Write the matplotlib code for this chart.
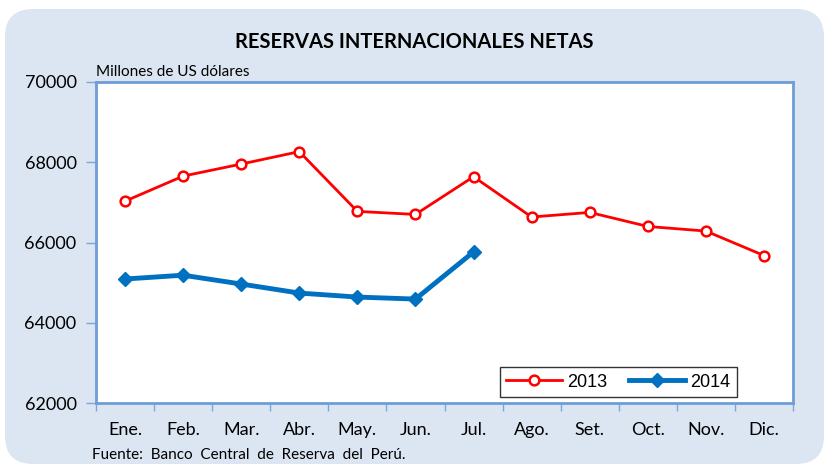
import matplotlib
matplotlib.use("Agg")
import matplotlib.pyplot as plt
from matplotlib.patches import FancyBboxPatch

months = ["Ene.", "Feb.", "Mar.", "Abr.", "May.", "Jun.", "Jul.", "Ago.", "Set.", "Oct.", "Nov.", "Dic."]
rin_2013 = [67030, 67655, 67955, 68265, 66775, 66700, 67640, 66635, 66750, 66400, 66285, 65675]
rin_2014 = [65090, 65185, 64965, 64740, 64640, 64590, 65765]
yticks = [62000, 64000, 66000, 68000, 70000]

plt.rcParams["font.family"] = ["Lato", "DejaVu Sans"]

W, H, DPI = 8.25, 4.66, 100
fig = plt.figure(figsize=(W, H), dpi=DPI)
fig.patch.set_facecolor("white")

# rounded light-blue panel behind the chart
panel = FancyBboxPatch((0.05, 0.02), 8.19, 4.55,
                       boxstyle="round,pad=0,rounding_size=0.28",
                       transform=fig.dpi_scale_trans,
                       facecolor="#DCE6F2", edgecolor="none", zorder=0)
fig.patches.append(panel)

ax = fig.add_axes([96 / 825, 1 - 403 / 466, (793 - 96) / 825, (403 - 82) / 466])
ax.set_facecolor("white")
ax.set_zorder(2)

x = list(range(len(months)))
ax.plot(x, rin_2013, color="#FF0000", lw=2, marker="o", ms=7,
        mfc="white", mec="#FF0000", mew=1.8, label="2013", zorder=3)
ax.plot(x[:len(rin_2014)], rin_2014, color="#0070C0", lw=3.5, marker="D", ms=7.5,
        mfc="#0070C0", mec="#0070C0", label="2014", zorder=4)

ax.set_xlim(-0.5, len(months) - 0.5)
ax.set_ylim(62000, 70000)
ax.set_yticks(yticks)
ax.set_yticklabels([str(v) for v in yticks], fontsize=13)

# category labels centred, tick marks on category boundaries
ax.set_xticks(x)
ax.set_xticklabels(months, fontsize=13)
ax.tick_params(axis="x", which="major", length=0, pad=14)
ax.set_xticks([i - 0.5 for i in range(len(months) + 1)], minor=True)
ax.tick_params(axis="x", which="minor", length=6, width=1, color="#7EA6D8", direction="out")
ax.tick_params(axis="y", length=7, width=1, color="#7EA6D8", direction="out", pad=7)

for s in ax.spines.values():
    s.set_color("#6E9DD8")
    s.set_linewidth(2)

leg = ax.legend(loc="lower right", bbox_to_anchor=(0.9197, 0.019), ncol=2,
                frameon=True, fancybox=False, borderaxespad=0,
                prop={"family": ["Liberation Sans", "DejaVu Sans"], "size": 13},
                handlelength=3.1, columnspacing=1.2, handletextpad=0.3,
                borderpad=0.35)
leg.get_frame().set_edgecolor("black")
leg.get_frame().set_linewidth(1)

fig.text(414 / 825, 1 - 42 / 466, "RESERVAS INTERNACIONALES NETAS",
         ha="center", va="center", fontsize=14.5, fontweight="bold")
fig.text(96 / 825, 1 - 72 / 466, "Millones de US dólares",
         ha="left", va="center", fontsize=11)
fig.text(92 / 825, 1 - 455 / 466, "Fuente:  Banco  Central  de  Reserva  del  Perú.",
         ha="left", va="center", fontsize=11)

fig.savefig("out.png", dpi=DPI)
